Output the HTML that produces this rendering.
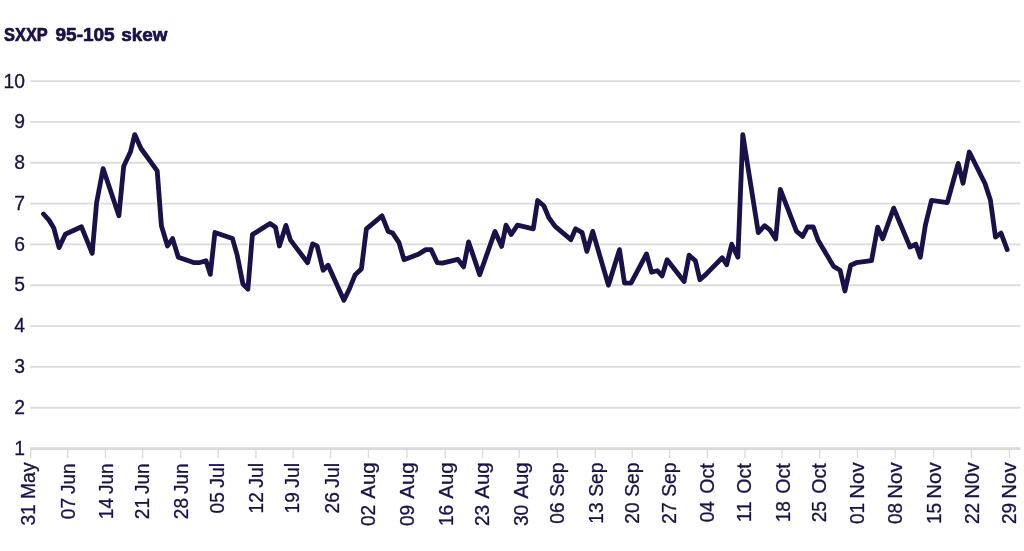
<!DOCTYPE html>
<html lang="en">
<head>
<meta charset="utf-8">
<title>SXXP 95-105 skew</title>
<style>
html,body{margin:0;padding:0;background:#fff;}
body{width:1024px;height:551px;overflow:hidden;}
svg{display:block;filter:blur(0.4px);}
text{font-family:"Liberation Sans",Arial,Helvetica,sans-serif;fill:#1a1149;stroke:#1a1149;stroke-width:0.3px;stroke-linejoin:round;}
.title{font-weight:bold;font-size:18.8px;stroke-width:0.7px;}
.yl{font-size:19.3px;text-anchor:end;}
.xl{font-size:19.6px;}
</style>
</head>
<body>
<svg width="1024" height="551" viewBox="0 0 1024 551">
<rect width="1024" height="551" fill="#ffffff"/>
<text class="title" y="40.55"><tspan x="4.00" textLength="43.48" lengthAdjust="spacingAndGlyphs">SXXP</tspan> <tspan x="55.50" textLength="59.19" lengthAdjust="spacingAndGlyphs">95-105</tspan> <tspan x="121.25" textLength="46.10" lengthAdjust="spacingAndGlyphs">skew</tspan></text>
<g stroke="#dcdcdc" stroke-width="1.8" fill="none">
<line x1="30.2" y1="81.05" x2="1020.5" y2="81.05"/>
<line x1="30.2" y1="121.89" x2="1020.5" y2="121.89"/>
<line x1="30.2" y1="162.73" x2="1020.5" y2="162.73"/>
<line x1="30.2" y1="203.57" x2="1020.5" y2="203.57"/>
<line x1="30.2" y1="244.41" x2="1020.5" y2="244.41"/>
<line x1="30.2" y1="285.25" x2="1020.5" y2="285.25"/>
<line x1="30.2" y1="326.09" x2="1020.5" y2="326.09"/>
<line x1="30.2" y1="366.93" x2="1020.5" y2="366.93"/>
<line x1="30.2" y1="407.77" x2="1020.5" y2="407.77"/>
</g>
<g stroke="#d9d9d9" stroke-width="1.3" fill="none">
<line x1="30.70" y1="448.60" x2="30.70" y2="458.1"/>
<line x1="67.70" y1="448.60" x2="67.70" y2="458.1"/>
<line x1="105.45" y1="448.60" x2="105.45" y2="458.1"/>
<line x1="142.70" y1="448.60" x2="142.70" y2="458.1"/>
<line x1="180.70" y1="448.60" x2="180.70" y2="458.1"/>
<line x1="218.20" y1="448.60" x2="218.20" y2="458.1"/>
<line x1="255.95" y1="448.60" x2="255.95" y2="458.1"/>
<line x1="293.20" y1="448.60" x2="293.20" y2="458.1"/>
<line x1="330.70" y1="448.60" x2="330.70" y2="458.1"/>
<line x1="368.45" y1="448.60" x2="368.45" y2="458.1"/>
<line x1="406.95" y1="448.60" x2="406.95" y2="458.1"/>
<line x1="445.20" y1="448.60" x2="445.20" y2="458.1"/>
<line x1="482.70" y1="448.60" x2="482.70" y2="458.1"/>
<line x1="519.20" y1="448.60" x2="519.20" y2="458.1"/>
<line x1="557.45" y1="448.60" x2="557.45" y2="458.1"/>
<line x1="595.20" y1="448.60" x2="595.20" y2="458.1"/>
<line x1="632.20" y1="448.60" x2="632.20" y2="458.1"/>
<line x1="669.70" y1="448.60" x2="669.70" y2="458.1"/>
<line x1="707.45" y1="448.60" x2="707.45" y2="458.1"/>
<line x1="744.95" y1="448.60" x2="744.95" y2="458.1"/>
<line x1="781.95" y1="448.60" x2="781.95" y2="458.1"/>
<line x1="819.70" y1="448.60" x2="819.70" y2="458.1"/>
<line x1="857.45" y1="448.60" x2="857.45" y2="458.1"/>
<line x1="895.20" y1="448.60" x2="895.20" y2="458.1"/>
<line x1="933.70" y1="448.60" x2="933.70" y2="458.1"/>
<line x1="971.45" y1="448.60" x2="971.45" y2="458.1"/>
<line x1="1009.45" y1="448.60" x2="1009.45" y2="458.1"/>
</g>
<line x1="29.8" y1="448.60" x2="1020.5" y2="448.60" stroke="#d9d9d9" stroke-width="2.9"/>
<g>
<text class="yl" x="24.9" y="87.60">10</text>
<text class="yl" x="24.9" y="128.37">9</text>
<text class="yl" x="24.9" y="169.14">8</text>
<text class="yl" x="24.9" y="209.91">7</text>
<text class="yl" x="24.9" y="250.68">6</text>
<text class="yl" x="24.9" y="291.45">5</text>
<text class="yl" x="24.9" y="332.22">4</text>
<text class="yl" x="24.9" y="372.99">3</text>
<text class="yl" x="24.9" y="413.76">2</text>
<text class="yl" x="24.9" y="454.53">1</text>
</g>
<g>
<text class="xl" transform="translate(35.15 0) rotate(-90)"><tspan x="-525.60" textLength="21.20" lengthAdjust="spacingAndGlyphs">31</tspan> <tspan x="-499.00" textLength="36.57" lengthAdjust="spacingAndGlyphs">May</tspan></text>
<text class="xl" transform="translate(75.00 0) rotate(-90)"><tspan x="-519.20" textLength="21.20" lengthAdjust="spacingAndGlyphs">07</tspan> <tspan x="-494.00" textLength="30.39" lengthAdjust="spacingAndGlyphs">Jun</tspan></text>
<text class="xl" transform="translate(112.50 0) rotate(-90)"><tspan x="-519.20" textLength="21.20" lengthAdjust="spacingAndGlyphs">14</tspan> <tspan x="-494.00" textLength="30.39" lengthAdjust="spacingAndGlyphs">Jun</tspan></text>
<text class="xl" transform="translate(148.70 0) rotate(-90)"><tspan x="-519.20" textLength="21.20" lengthAdjust="spacingAndGlyphs">21</tspan> <tspan x="-494.00" textLength="30.39" lengthAdjust="spacingAndGlyphs">Jun</tspan></text>
<text class="xl" transform="translate(187.50 0) rotate(-90)"><tspan x="-519.20" textLength="21.20" lengthAdjust="spacingAndGlyphs">28</tspan> <tspan x="-494.00" textLength="30.39" lengthAdjust="spacingAndGlyphs">Jun</tspan></text>
<text class="xl" transform="translate(223.85 0) rotate(-90)"><tspan x="-513.40" textLength="21.20" lengthAdjust="spacingAndGlyphs">05</tspan> <tspan x="-487.75" textLength="24.75" lengthAdjust="spacingAndGlyphs">Jul</tspan></text>
<text class="xl" transform="translate(263.20 0) rotate(-90)"><tspan x="-513.40" textLength="21.20" lengthAdjust="spacingAndGlyphs">12</tspan> <tspan x="-487.75" textLength="24.75" lengthAdjust="spacingAndGlyphs">Jul</tspan></text>
<text class="xl" transform="translate(299.30 0) rotate(-90)"><tspan x="-513.40" textLength="21.20" lengthAdjust="spacingAndGlyphs">19</tspan> <tspan x="-487.75" textLength="24.75" lengthAdjust="spacingAndGlyphs">Jul</tspan></text>
<text class="xl" transform="translate(338.50 0) rotate(-90)"><tspan x="-513.40" textLength="21.20" lengthAdjust="spacingAndGlyphs">26</tspan> <tspan x="-487.75" textLength="24.75" lengthAdjust="spacingAndGlyphs">Jul</tspan></text>
<text class="xl" transform="translate(375.15 0) rotate(-90)"><tspan x="-526.00" textLength="21.20" lengthAdjust="spacingAndGlyphs">02</tspan> <tspan x="-498.75" textLength="36.37" lengthAdjust="spacingAndGlyphs">Aug</tspan></text>
<text class="xl" transform="translate(413.85 0) rotate(-90)"><tspan x="-526.00" textLength="21.20" lengthAdjust="spacingAndGlyphs">09</tspan> <tspan x="-498.75" textLength="36.37" lengthAdjust="spacingAndGlyphs">Aug</tspan></text>
<text class="xl" transform="translate(452.70 0) rotate(-90)"><tspan x="-526.00" textLength="21.20" lengthAdjust="spacingAndGlyphs">16</tspan> <tspan x="-498.75" textLength="36.37" lengthAdjust="spacingAndGlyphs">Aug</tspan></text>
<text class="xl" transform="translate(488.70 0) rotate(-90)"><tspan x="-526.00" textLength="21.20" lengthAdjust="spacingAndGlyphs">23</tspan> <tspan x="-498.75" textLength="36.37" lengthAdjust="spacingAndGlyphs">Aug</tspan></text>
<text class="xl" transform="translate(527.70 0) rotate(-90)"><tspan x="-526.00" textLength="21.20" lengthAdjust="spacingAndGlyphs">30</tspan> <tspan x="-498.75" textLength="36.37" lengthAdjust="spacingAndGlyphs">Aug</tspan></text>
<text class="xl" transform="translate(564.20 0) rotate(-90)"><tspan x="-523.70" textLength="21.20" lengthAdjust="spacingAndGlyphs">06</tspan> <tspan x="-496.75" textLength="34.30" lengthAdjust="spacingAndGlyphs">Sep</tspan></text>
<text class="xl" transform="translate(603.35 0) rotate(-90)"><tspan x="-523.70" textLength="21.20" lengthAdjust="spacingAndGlyphs">13</tspan> <tspan x="-496.75" textLength="34.30" lengthAdjust="spacingAndGlyphs">Sep</tspan></text>
<text class="xl" transform="translate(639.30 0) rotate(-90)"><tspan x="-523.70" textLength="21.20" lengthAdjust="spacingAndGlyphs">20</tspan> <tspan x="-496.75" textLength="34.30" lengthAdjust="spacingAndGlyphs">Sep</tspan></text>
<text class="xl" transform="translate(675.65 0) rotate(-90)"><tspan x="-523.70" textLength="21.20" lengthAdjust="spacingAndGlyphs">27</tspan> <tspan x="-496.75" textLength="34.30" lengthAdjust="spacingAndGlyphs">Sep</tspan></text>
<text class="xl" transform="translate(714.15 0) rotate(-90)"><tspan x="-522.30" textLength="21.20" lengthAdjust="spacingAndGlyphs">04</tspan> <tspan x="-493.75" textLength="30.59" lengthAdjust="spacingAndGlyphs">Oct</tspan></text>
<text class="xl" transform="translate(750.80 0) rotate(-90)"><tspan x="-522.30" textLength="21.20" lengthAdjust="spacingAndGlyphs">11</tspan> <tspan x="-493.75" textLength="30.59" lengthAdjust="spacingAndGlyphs">Oct</tspan></text>
<text class="xl" transform="translate(790.00 0) rotate(-90)"><tspan x="-522.30" textLength="21.20" lengthAdjust="spacingAndGlyphs">18</tspan> <tspan x="-493.75" textLength="30.59" lengthAdjust="spacingAndGlyphs">Oct</tspan></text>
<text class="xl" transform="translate(826.30 0) rotate(-90)"><tspan x="-522.30" textLength="21.20" lengthAdjust="spacingAndGlyphs">25</tspan> <tspan x="-493.75" textLength="30.59" lengthAdjust="spacingAndGlyphs">Oct</tspan></text>
<text class="xl" transform="translate(863.70 0) rotate(-90)"><tspan x="-524.10" textLength="21.20" lengthAdjust="spacingAndGlyphs">01</tspan> <tspan x="-498.75" textLength="36.42" lengthAdjust="spacingAndGlyphs">Nov</tspan></text>
<text class="xl" transform="translate(901.85 0) rotate(-90)"><tspan x="-524.10" textLength="21.20" lengthAdjust="spacingAndGlyphs">08</tspan> <tspan x="-498.75" textLength="36.42" lengthAdjust="spacingAndGlyphs">Nov</tspan></text>
<text class="xl" transform="translate(940.70 0) rotate(-90)"><tspan x="-524.10" textLength="21.20" lengthAdjust="spacingAndGlyphs">15</tspan> <tspan x="-498.75" textLength="36.42" lengthAdjust="spacingAndGlyphs">Nov</tspan></text>
<text class="xl" transform="translate(978.85 0) rotate(-90)"><tspan x="-524.10" textLength="21.20" lengthAdjust="spacingAndGlyphs">22</tspan> <tspan x="-498.75" textLength="36.42" lengthAdjust="spacingAndGlyphs">N0v</tspan></text>
<text class="xl" transform="translate(1015.65 0) rotate(-90)"><tspan x="-524.10" textLength="21.20" lengthAdjust="spacingAndGlyphs">29</tspan> <tspan x="-498.75" textLength="36.42" lengthAdjust="spacingAndGlyphs">Nov</tspan></text>
</g>
<path d="M43.5 214.0 L49.2 220.4 L53.8 228.1 L59.1 247.6 L65.3 234.2 L81.5 226.8 L92.2 253.3 L96.6 202.6 L103.1 168.6 L118.9 215.7 L123.7 166.2 L130.5 151.8 L134.7 134.6 L141.0 148.5 L157.2 170.8 L161.4 225.7 L167.5 246.0 L172.6 238.6 L178.3 257.2 L194.3 262.7 L199.1 262.7 L206.0 260.8 L210.3 274.4 L214.9 232.5 L232.4 238.4 L237.2 255.2 L242.9 284.0 L247.9 289.2 L252.4 234.6 L270.0 223.5 L275.5 227.3 L279.4 246.0 L285.9 225.4 L290.5 240.1 L307.6 262.7 L312.6 243.9 L317.1 245.9 L323.1 270.2 L328.1 265.2 L343.9 300.2 L349.7 288.2 L355.2 274.7 L361.4 268.9 L366.4 228.8 L382.0 215.8 L388.2 231.4 L392.7 233.1 L399.0 242.6 L404.0 259.7 L419.0 253.9 L425.8 249.6 L431.1 249.6 L437.3 262.7 L442.3 263.2 L457.9 259.4 L463.6 266.9 L468.6 241.9 L479.7 274.7 L495.0 231.4 L501.7 246.4 L506.0 225.1 L511.2 234.5 L517.5 225.1 L533.3 228.8 L537.6 200.5 L543.8 205.8 L548.8 217.6 L555.1 226.3 L570.9 239.6 L575.6 228.8 L582.1 232.6 L586.9 251.4 L592.7 231.4 L608.4 285.2 L619.5 249.6 L624.5 283.2 L631.0 283.2 L646.5 253.9 L651.5 272.2 L657.3 270.7 L662.1 275.9 L667.1 259.7 L684.1 281.5 L689.1 255.2 L695.4 260.7 L699.9 279.7 L705.9 274.4 L722.2 257.7 L726.7 264.7 L731.7 244.2 L737.9 257.2 L742.8 134.6 L758.3 232.6 L764.6 225.7 L770.1 230.2 L775.7 239.0 L780.3 189.4 L796.4 231.2 L802.6 236.4 L807.5 227.0 L813.3 227.0 L818.1 240.2 L833.6 266.4 L840.1 270.2 L844.9 291.0 L850.7 265.2 L856.2 262.7 L871.5 260.7 L877.7 227.1 L882.7 238.7 L893.7 208.1 L910.0 247.0 L915.8 244.3 L920.3 257.2 L925.4 225.1 L931.5 200.3 L947.3 202.6 L958.2 163.4 L963.0 183.2 L969.3 152.0 L985.0 183.5 L990.4 200.0 L995.5 237.1 L1001.0 233.1 L1007.2 249.6" fill="none" stroke="#ffffff" stroke-width="6" stroke-linejoin="round" stroke-linecap="round"/>
<path d="M43.5 214.0 L49.2 220.4 L53.8 228.1 L59.1 247.6 L65.3 234.2 L81.5 226.8 L92.2 253.3 L96.6 202.6 L103.1 168.6 L118.9 215.7 L123.7 166.2 L130.5 151.8 L134.7 134.6 L141.0 148.5 L157.2 170.8 L161.4 225.7 L167.5 246.0 L172.6 238.6 L178.3 257.2 L194.3 262.7 L199.1 262.7 L206.0 260.8 L210.3 274.4 L214.9 232.5 L232.4 238.4 L237.2 255.2 L242.9 284.0 L247.9 289.2 L252.4 234.6 L270.0 223.5 L275.5 227.3 L279.4 246.0 L285.9 225.4 L290.5 240.1 L307.6 262.7 L312.6 243.9 L317.1 245.9 L323.1 270.2 L328.1 265.2 L343.9 300.2 L349.7 288.2 L355.2 274.7 L361.4 268.9 L366.4 228.8 L382.0 215.8 L388.2 231.4 L392.7 233.1 L399.0 242.6 L404.0 259.7 L419.0 253.9 L425.8 249.6 L431.1 249.6 L437.3 262.7 L442.3 263.2 L457.9 259.4 L463.6 266.9 L468.6 241.9 L479.7 274.7 L495.0 231.4 L501.7 246.4 L506.0 225.1 L511.2 234.5 L517.5 225.1 L533.3 228.8 L537.6 200.5 L543.8 205.8 L548.8 217.6 L555.1 226.3 L570.9 239.6 L575.6 228.8 L582.1 232.6 L586.9 251.4 L592.7 231.4 L608.4 285.2 L619.5 249.6 L624.5 283.2 L631.0 283.2 L646.5 253.9 L651.5 272.2 L657.3 270.7 L662.1 275.9 L667.1 259.7 L684.1 281.5 L689.1 255.2 L695.4 260.7 L699.9 279.7 L705.9 274.4 L722.2 257.7 L726.7 264.7 L731.7 244.2 L737.9 257.2 L742.8 134.6 L758.3 232.6 L764.6 225.7 L770.1 230.2 L775.7 239.0 L780.3 189.4 L796.4 231.2 L802.6 236.4 L807.5 227.0 L813.3 227.0 L818.1 240.2 L833.6 266.4 L840.1 270.2 L844.9 291.0 L850.7 265.2 L856.2 262.7 L871.5 260.7 L877.7 227.1 L882.7 238.7 L893.7 208.1 L910.0 247.0 L915.8 244.3 L920.3 257.2 L925.4 225.1 L931.5 200.3 L947.3 202.6 L958.2 163.4 L963.0 183.2 L969.3 152.0 L985.0 183.5 L990.4 200.0 L995.5 237.1 L1001.0 233.1 L1007.2 249.6" fill="none" stroke="#1a1149" stroke-width="4.8" stroke-linejoin="round" stroke-linecap="round"/>
</svg>
</body>
</html>
